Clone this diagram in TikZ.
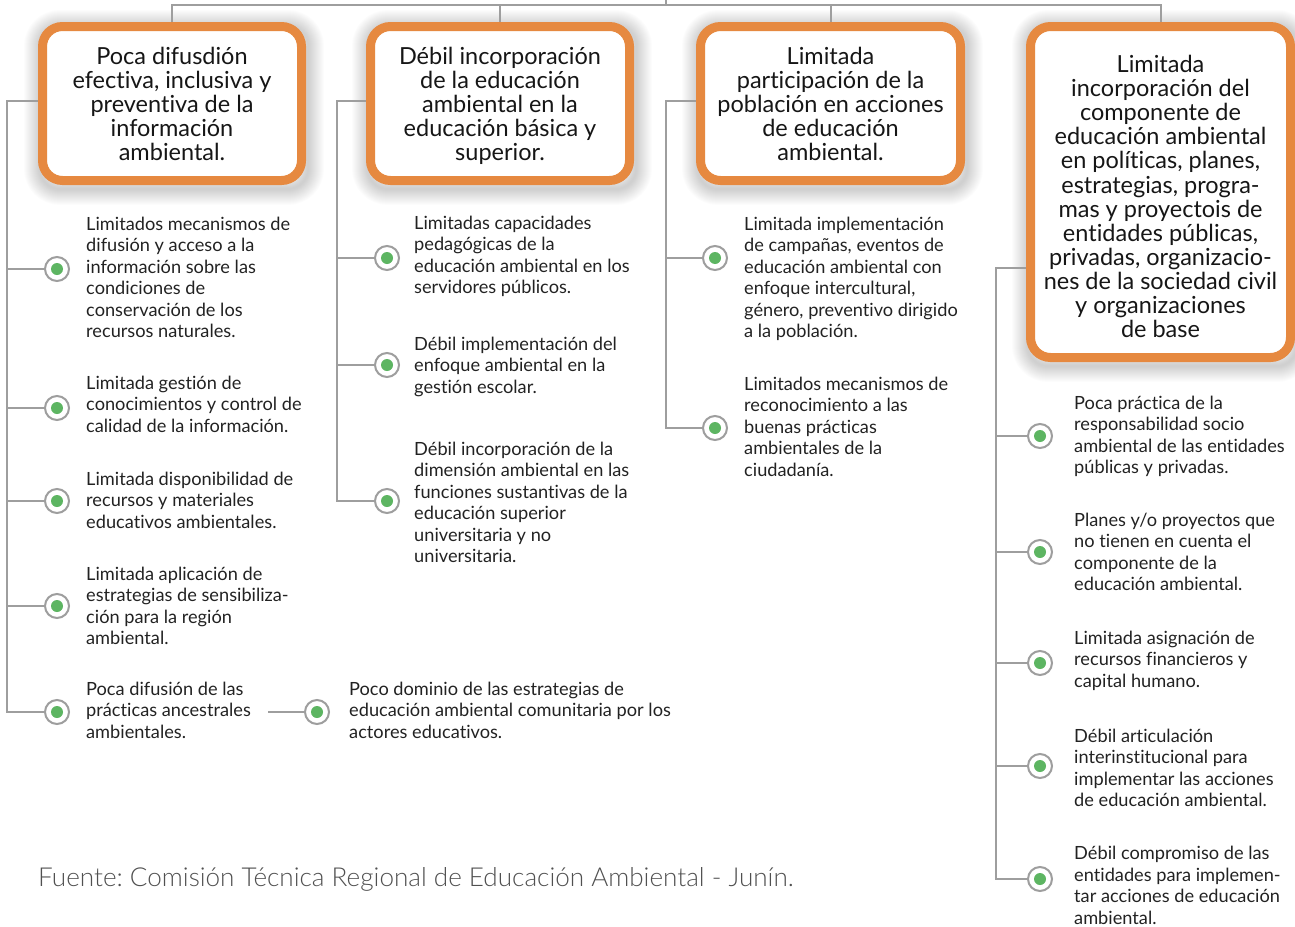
\documentclass[tikz,border=0pt]{standalone}
\usepackage{fontspec}
\setmainfont{Lato}[Ligatures=NoCommon]
\newfontfamily\lightfont{Lato Light}[Ligatures=NoCommon]
\usetikzlibrary{calc}
\definecolor{boxorange}{RGB}{230,137,64}
\definecolor{linegray}{RGB}{158,158,158}
\definecolor{dotgreen}{RGB}{93,181,98}
\definecolor{txtgray}{RGB}{34,34,34}
\definecolor{boxtxt}{RGB}{22,22,22}
\definecolor{footgray}{RGB}{80,80,80}
\pgfdeclarelayer{background}
\pgfsetlayers{background,main}
\newcommand{\lstack}[1]{\vtop{\let\\\cr\halign{##\hfil\cr#1\crcr}}}
\newcommand{\cstack}[1]{\vtop{\let\\\cr\halign{\hfil##\hfil\cr#1\crcr}}}
\tikzset{
  conn/.style={draw=linegray, line width=2pt},
  bul/.style={circle, draw=linegray, line width=2pt, fill=white, minimum size=24pt, inner sep=0pt,
    path picture={\fill[dotgreen] (path picture bounding box.center) circle (6pt);}},
  txt/.style={anchor=base west, inner sep=0pt, text=txtgray, font=\fontsize{18.2}{21.5}\selectfont},
  bigbox/.style={rectangle, rounded corners=20pt, draw=boxorange, line width=9pt, fill=white, inner sep=0pt},
  boxtext/.style={anchor=base, inner sep=0pt, text=boxtxt, font=\fontsize{23.5}{24}\selectfont},
}
\newcommand{\boxshadow}[1]{%
  \begin{pgfonlayer}{background}
  \foreach \i in {1,...,16}{
    \draw[black, draw opacity=0.012, line width=2*\i pt, rounded corners=20pt]
      ($(#1.south west)+(2pt,-4pt)$) rectangle ($(#1.north east)+(2pt,-4pt)$);
  }
  \end{pgfonlayer}}
\begin{document}
\frenchspacing
\begin{tikzpicture}[x=1pt,y=-1pt]
\useasboundingbox (0,0) rectangle (1295,926);

% ---- boxes
\node[bigbox, minimum width=259pt, minimum height=154pt] (b1) at (172,103.5) {};
\node[bigbox, minimum width=259pt, minimum height=154pt] (b2) at (500,103.5) {};
\node[bigbox, minimum width=260pt, minimum height=154pt] (b3) at (830.5,103.5) {};
\node[bigbox, minimum width=260pt, minimum height=331pt] (b4) at (1160.5,192) {};
\boxshadow{b1}\boxshadow{b2}\boxshadow{b3}\boxshadow{b4}

\node[boxtext] (b1t) at (172,64.5)
  {\cstack{Poca difusdión\\efectiva, inclusiva y\\preventiva de la\\información\\ambiental.}};
\node[boxtext] (b2t) at (500,64.5)
  {\cstack{Débil incorporación\\de la educación\\ambiental en la\\educación básica y\\superior.}};
\node[boxtext] (b3t) at (830.5,64.5)
  {\cstack{Limitada\\participación de la\\población en acciones\\de educación\\ambiental.}};
\node[boxtext, font=\fontsize{23.5}{24.1}\selectfont] (b4t) at (1160.5,72.5)
  {\cstack{Limitada\\incorporación del\\componente de\\educación ambiental\\en políticas, planes,\\estrategias, progra-\\mas y proyectois de\\entidades públicas,\\privadas, organizacio-\\nes de la sociedad civil\\y organizaciones\\de base}};

% ---- top connector
\coordinate (hub) at (666,5);
\coordinate (hubtop) at (666,0);
\begin{pgfonlayer}{background}
\draw[conn] (b1.north) |- (hub) -| (b4.north);
\draw[conn] (b2.north) -- (b2.north |- hub);
\draw[conn] (b3.north) -- (b3.north |- hub);
\draw[conn] (hub) -- (hubtop);
\end{pgfonlayer}

% ---- bullets
\node[bul] (d11) at (57,269) {};
\node[bul] (d12) at (57,408) {};
\node[bul] (d13) at (57,501) {};
\node[bul] (d14) at (57,606) {};
\node[bul] (d15) at (57,712) {};
\node[bul] (d16) at (317,712) {};
\node[bul] (d21) at (387,258) {};
\node[bul] (d22) at (387,365) {};
\node[bul] (d23) at (387,501) {};
\node[bul] (d31) at (715,258) {};
\node[bul] (d32) at (715,428) {};
\node[bul] (d41) at (1040,436) {};
\node[bul] (d42) at (1040,552) {};
\node[bul] (d43) at (1040,663) {};
\node[bul] (d44) at (1040,766) {};
\node[bul] (d45) at (1040,879) {};

% ---- trunks
\coordinate (k1) at (7,712);
\coordinate (k2) at (337,501);
\coordinate (k3) at (666,428);
\coordinate (k4) at (996,879);
\begin{pgfonlayer}{background}
\draw[conn] ($(b1.west)+(0,-2.5)$) -| (k1) -- (d15);
\foreach \d in {d11,d12,d13,d14} \draw[conn] (k1 |- \d) -- (\d);
\draw[conn] ($(b2.west)+(0,-2.5)$) -| (k2) -- (d23);
\foreach \d in {d21,d22} \draw[conn] (k2 |- \d) -- (\d);
\draw[conn] ($(b3.west)+(0,-2.5)$) -| (k3) -- (d32);
\draw[conn] (k3 |- d31) -- (d31);
\draw[conn] (b4.west |- 0,268) -| (k4) -- (d45);
\foreach \d in {d41,d42,d43,d44} \draw[conn] (k4 |- \d) -- (\d);
\end{pgfonlayer}

% ---- texts column 1
\node[txt] (t11) at (86,230) {\lstack{Limitados mecanismos de\\difusión y acceso a la\\información sobre las\\condiciones de\\conservación de los\\recursos naturales.}};
\node[txt] (t12) at (86,389) {\lstack{Limitada gestión de\\conocimientos y control de\\calidad de la información.}};
\node[txt] (t13) at (86,485) {\lstack{Limitada disponibilidad de\\recursos y materiales\\educativos ambientales.}};
\node[txt] (t14) at (86,580) {\lstack{Limitada aplicación de\\estrategias de sensibiliza-\\ción para la región\\ambiental.}};
\node[txt] (t15) at (86,695) {\lstack{Poca difusión de las\\prácticas ancestrales\\ambientales.}};
\node[txt] (t16) at (349,695) {\lstack{Poco dominio de las estrategias de\\educación ambiental comunitaria por los\\actores educativos.}};
\coordinate (l15) at (268,712);
\begin{pgfonlayer}{background}
\draw[conn] (l15) -- (d16);
\end{pgfonlayer}

% ---- texts column 2
\node[txt] (t21) at (414,229) {\lstack{Limitadas capacidades\\pedagógicas de la\\educación ambiental en los\\servidores públicos.}};
\node[txt] (t22) at (414,350) {\lstack{Débil implementación del\\enfoque ambiental en la\\gestión escolar.}};
\node[txt] (t23) at (414,455) {\lstack{Débil incorporación de la\\dimensión ambiental en las\\funciones sustantivas de la\\educación superior\\universitaria y no\\universitaria.}};

% ---- texts column 3
\node[txt] (t31) at (744,230) {\lstack{Limitada implementación\\de campañas, eventos de\\educación ambiental con\\enfoque intercultural,\\género, preventivo dirigido\\a la población.}};
\node[txt] (t32) at (744,390) {\lstack{Limitados mecanismos de\\reconocimiento a las\\buenas prácticas\\ambientales de la\\ciudadanía.}};

% ---- texts column 4
\node[txt] (t41) at (1074,409) {\lstack{Poca práctica de la\\responsabilidad socio\\ambiental de las entidades\\públicas y privadas.}};
\node[txt] (t42) at (1074,526) {\lstack{Planes y/o proyectos que\\no tienen en cuenta el\\componente de la\\educación ambiental.}};
\node[txt] (t43) at (1074,644) {\lstack{Limitada asignación de\\recursos financieros y\\capital humano.}};
\node[txt] (t44) at (1074,742) {\lstack{Débil articulación\\interinstitucional para\\implementar las acciones\\de educación ambiental.}};
\node[txt] (t45) at (1074,859.5) {\lstack{Débil compromiso de las\\entidades para implemen-\\tar acciones de educación\\ambiental.}};

% ---- footer
\node[anchor=base west, inner sep=0pt, text=footgray, font=\lightfont\fontsize{26.1}{30}\selectfont] (src) at (38,886.5)
  {Fuente: Comisión Técnica Regional de Educación Ambiental - Junín.};
\end{tikzpicture}
\end{document}
